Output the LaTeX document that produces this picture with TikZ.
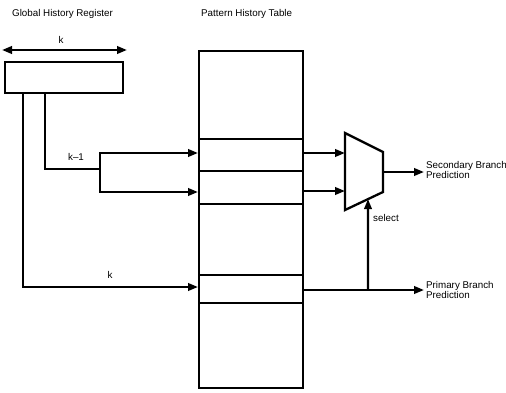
\documentclass[tikz,border=0pt]{standalone}
\usepackage{fontspec}
\setmainfont{Liberation Sans}
\usetikzlibrary{arrows.meta,calc}
\begin{document}
\begin{tikzpicture}[x=1pt,y=-1pt, line width=2.3pt,
  lbl/.style={font=\fontsize{9.8}{10}\selectfont, inner sep=0pt, align=left},
  arr/.style={-{Triangle[length=10pt,width=7.5pt]}},
  dblarr/.style={{Triangle[length=10pt,width=7.5pt]}-{Triangle[length=10pt,width=7.5pt]}},
  box/.style={draw, rectangle, inner sep=0pt}]
\useasboundingbox (0,0) rectangle (506,392);
% titles
\node[lbl, anchor=west] (ghrt) at (11,14) {Global History Register};
\node[lbl, anchor=west] (phtt) at (200,14) {Pattern History Table};
% global history register
\node[box, minimum width=118pt, minimum height=31pt, anchor=north west] (ghr) at (4,61) {};
\coordinate (kl) at (2,50);
\coordinate (kr) at (127,50);
\draw[dblarr] (kl) -- (kr);
\node[lbl] (klab) at (61,40) {k};
% pattern history table
\node[box, minimum width=104pt, minimum height=337pt, anchor=north west] (pht) at (198,50) {};
\foreach \yy in {139,171,204,275,303} \draw (pht.west |- 0,\yy) -- (pht.east |- 0,\yy);
% taps
\coordinate (tapA) at (ghr.south -| 23,0);
\coordinate (tapB) at (ghr.south -| 45,0);
\coordinate (fork) at (100,169);
\draw (tapB) |- (fork);
\draw[arr] (fork) |- (pht.west |- 0,153);
\draw[arr] (fork) |- (pht.west |- 0,192);
\node[lbl] (km1) at (76,157) {k–1};
\draw[arr] (tapA) |- (pht.west |- 0,287);
\node[lbl] (klab2) at (110,275) {k};
% mux
\coordinate (m1) at (345,133);
\coordinate (m2) at (383,152);
\coordinate (m3) at (383,192);
\coordinate (m4) at (345,210);
\draw[line join=miter] (m1) -- (m2) -- (m3) -- (m4) -- cycle;
\draw[arr] (pht.east |- 0,153) -- (m1 |- 0,153);
\draw[arr] (pht.east |- 0,191) -- (m1 |- 0,191);
\coordinate (mout) at (383,172);
\coordinate (sec) at (424,172);
\draw[arr] (mout) -- (sec);
\node[lbl, anchor=west] (seclab) at (425,170) {Secondary Branch\\Prediction};
% primary
\coordinate (prim) at (424,290);
\draw[arr] (pht.east |- 0,290) -- (prim);
\node[lbl, anchor=west] (primlab) at (425,290) {Primary Branch\\Prediction};
% select
\coordinate (selbase) at (368,290);
\coordinate (seltip) at ($(m4)!0.605!(m3)$);
\draw[arr] (selbase) -- (seltip);
\node[lbl, anchor=west] (sellab) at (372,218) {select};
\end{tikzpicture}
\end{document}
